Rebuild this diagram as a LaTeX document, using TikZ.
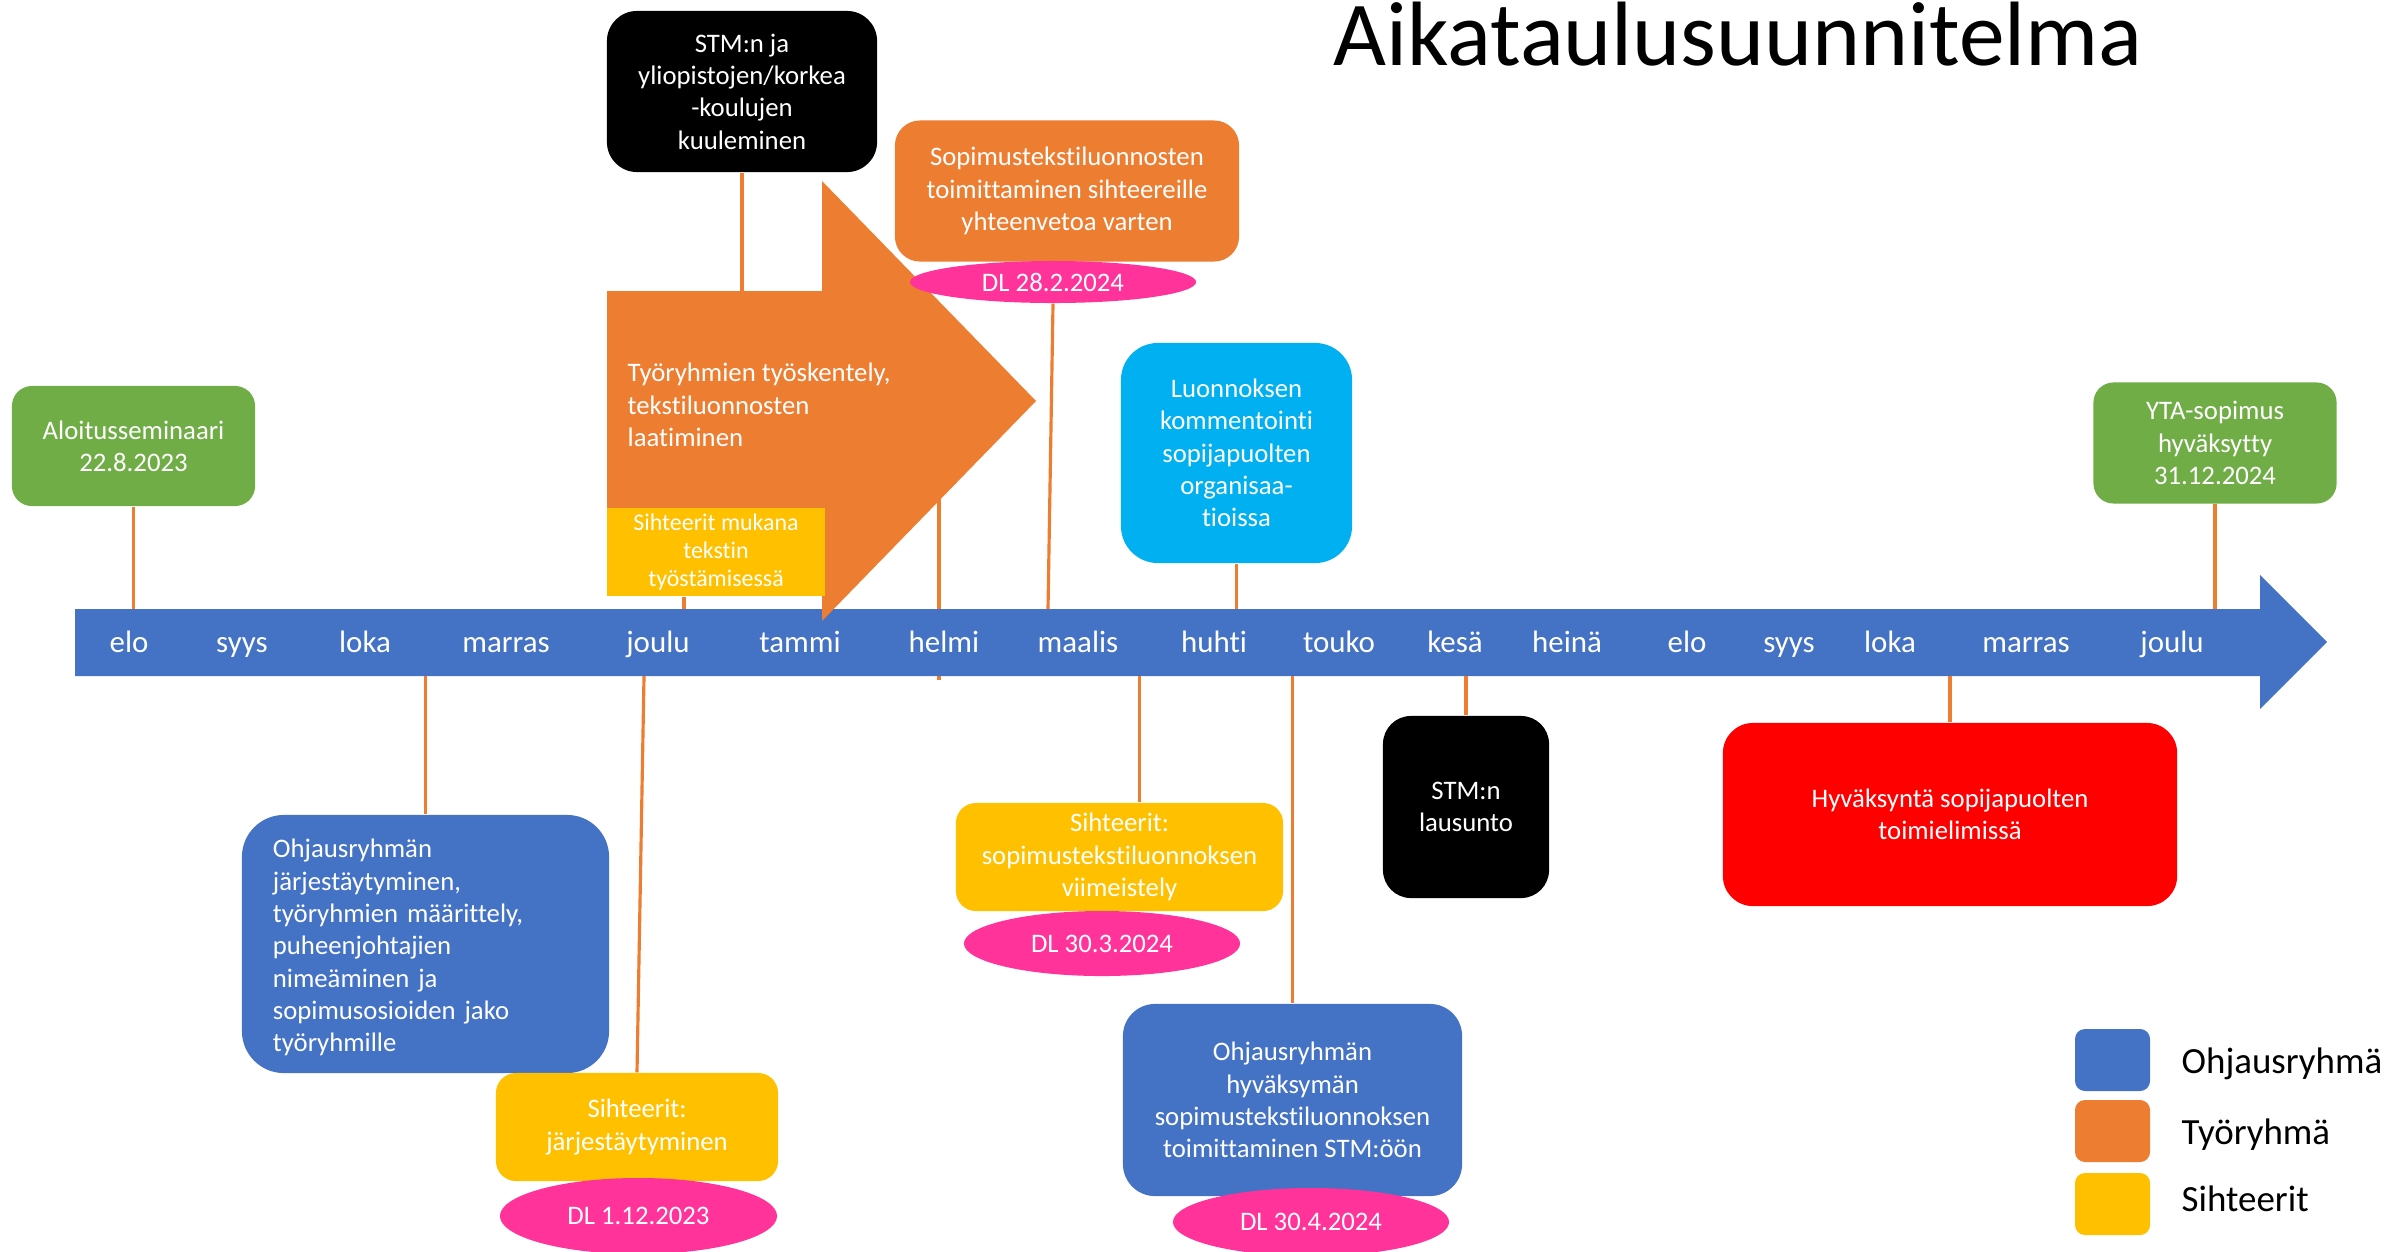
\documentclass[tikz,border=0pt]{standalone}
\usepackage{fontspec}
\setmainfont{Carlito}[Ligatures=NoCommon]
\usetikzlibrary{shapes.geometric}
\definecolor{ohjaus}{HTML}{4472C4}
\definecolor{tyo}{HTML}{ED7D31}
\definecolor{siht}{HTML}{FFC000}
\definecolor{vihrea}{HTML}{70AD47}
\definecolor{syaani}{HTML}{00B0F0}
\definecolor{pinkki}{HTML}{FF3399}
\tikzset{
	laatikko/.style={rounded corners=0.2cm, text=white, inner sep=0pt, align=center, font=\fontsize{7.6}{9.2}\selectfont, execute at begin node={\rule{0pt}{7.4pt}}},
	dl/.style={ellipse, fill=pinkki, text=white, inner sep=0pt, font=\fontsize{7.6}{9.2}\selectfont},
	viiva/.style={draw=tyo, line width=0.9pt},
	kk/.style={text=white, anchor=base, font=\fontsize{8.8}{10}\selectfont},
	selite/.style={anchor=base west, inner sep=0pt, font=\fontsize{10.5}{12}\selectfont},
}
\begin{document}
\begin{tikzpicture}[x=0.01cm, y=-0.01cm]
		\useasboundingbox (0,0) rectangle (2404,1251);
		
		% viiva helmikuun kohdalla, jaa nuolen ja palkin alle
		\coordinate (helmiyla) at (939,480);
		\coordinate (helmiala) at (939,680);
		\draw[viiva] (helmiyla) -- (helmiala);
		
		% aikajana
		\fill[ohjaus] (75,609) -- (2260,609) -- (2260,575) -- (2327,642) -- (2260,709) -- (2260,676) -- (75,676) -- cycle;
		\coordinate (bartop) at (0,609);
		\coordinate (barbot) at (0,676);
		\foreach \x/\k [count=\i] in {129/elo, 242/syys, 365/loka, 506/marras, 658/joulu, 800/tammi, 944/helmi, 1078/maalis, 1214/huhti, 1339/touko, 1455/kesä, 1567/heinä, 1687/elo, 1789/syys, 1890/loka, 2026/marras, 2172/joulu}{
			\node[kk] (kk\i) at (\x,652) {\k};
		}
		
		% tyoryhmien nuoli
		\fill[tyo] (607,291) -- (822,291) -- (822,181) -- (1036,401) -- (822,621) -- (822,511) -- (607,511) -- cycle;
		\coordinate (nuolitop) at (0,291);
		\node[anchor=west, inner sep=0pt, align=left, text=white, font=\fontsize{7.6}{9.2}\selectfont] (tyoskentely) at (627,405) {Työryhmien työskentely,\\tekstiluonnosten\\laatiminen};
		\node[fill=siht, text=white, inner sep=0pt, align=center, minimum width=2.18cm, minimum height=0.88cm, font=\fontsize{6.8}{8}\selectfont] (mukana) at (716,552) {Sihteerit mukana\\tekstin\\työstämisessä};
		
		\node[laatikko, fill=vihrea, minimum width=2.43cm, minimum height=1.2cm] (aloitus) at (133.5,446) {Aloitusseminaari\\22.8.2023};
		\node[laatikko, fill=black, rounded corners=0.3cm, minimum width=2.7cm, minimum height=1.61cm] (kuuleminen) at (742,91.5) {STM:n ja\\yliopistojen/korkea\\-koulujen\\kuuleminen};
		\node[laatikko, fill=tyo, rounded corners=0.25cm, minimum width=3.44cm, minimum height=1.41cm] (toimittaminen) at (1067,191) {Sopimustekstiluonnosten\\toimittaminen sihteereille\\yhteenvetoa varten};
		\node[dl, minimum width=2.86cm, minimum height=0.42cm] (dl1) at (1053,282) {DL 28.2.2024};
		\node[laatikko, fill=syaani, rounded corners=0.37cm, minimum width=2.31cm, minimum height=2.2cm] (kommentointi) at (1236.5,453) {Luonnoksen\\kommentointi\\sopijapuolten\\organisaa-\\tioissa};
		\node[laatikko, fill=vihrea, minimum width=2.43cm, minimum height=1.21cm] (yta) at (2215,443) {YTA-sopimus\\hyväksytty\\31.12.2024};
		
		\node[laatikko, fill=ohjaus, rounded corners=0.42cm, align=left, text width=3.05cm, inner xsep=0.31cm, minimum height=2.58cm] (jarjestaytyminen) at (425.5,944) {Ohjausryhmän\\järjestäytyminen,\\työryhmien määrittely,\\puheenjohtajien\\nimeäminen ja\\sopimusosioiden jako\\työryhmille};
		\node[laatikko, fill=siht, minimum width=2.82cm, minimum height=1.08cm] (sihjarj) at (637,1127) {Sihteerit:\\järjestäytyminen};
		\node[dl, minimum width=2.77cm, minimum height=0.76cm] (dl2) at (638.5,1216) {DL 1.12.2023};
		\node[laatikko, fill=siht, minimum width=3.27cm, minimum height=1.08cm] (viimeistely) at (1119.5,857) {Sihteerit:\\sopimustekstiluonnoksen\\viimeistely};
		\node[dl, minimum width=2.76cm, minimum height=0.65cm] (dl3) at (1102,943.5) {DL 30.3.2024};
		\node[laatikko, fill=ohjaus, rounded corners=0.32cm, minimum width=3.39cm, minimum height=1.92cm] (stmoon) at (1292.5,1100) {Ohjausryhmän\\hyväksymän\\sopimustekstiluonnoksen\\toimittaminen STM:öön};
		\node[dl, minimum width=2.76cm, minimum height=0.68cm] (dl4) at (1311,1222) {DL 30.4.2024};
		\node[laatikko, fill=black, rounded corners=0.28cm, minimum width=1.66cm, minimum height=1.82cm] (lausunto) at (1466,807) {STM:n\\lausunto};
		\node[laatikko, fill=red, rounded corners=0.3cm, minimum width=4.54cm, minimum height=1.83cm] (hyvaksynta) at (1950,814.5) {Hyväksyntä sopijapuolten\\toimielimissä};
		
		% yhdysviivat
		\draw[viiva] (aloitus.south) -- (aloitus.south |- bartop);
		\draw[viiva] (kuuleminen.south) -- (kuuleminen.south |- nuolitop);
		\draw[viiva] ([xshift=-0.32cm]mukana.south) -- ([xshift=-0.32cm]mukana.south |- bartop);
		\draw[viiva] (dl1.south) -- ([xshift=-0.05cm]dl1.south |- bartop);
		\draw[viiva] (kommentointi.south) -- (kommentointi.south |- bartop);
		\draw[viiva] (yta.south) -- (yta.south |- bartop);
		\draw[viiva] (jarjestaytyminen.north) -- (jarjestaytyminen.north |- barbot);
		\draw[viiva] (sihjarj.north) -- ([xshift=0.07cm]sihjarj.north |- barbot);
		\draw[viiva] ([xshift=0.2cm]viimeistely.north) -- ([xshift=0.2cm]viimeistely.north |- barbot);
		\draw[viiva] (stmoon.north) -- (stmoon.north |- barbot);
		\draw[viiva] (lausunto.north) -- (lausunto.north |- barbot);
		\draw[viiva] (hyvaksynta.north) -- (hyvaksynta.north |- barbot);
		
		% otsikko
		\node[anchor=base west, inner sep=0pt, font=\fontsize{26}{30}\selectfont] (otsikko) at (1333,65) {Aikataulusuunnitelma};
		
		% selitteet
		\foreach \y/\b/\c/\t [count=\i] in {1060/1073/ohjaus/Ohjausryhmä, 1131/1144/tyo/Työryhmä, 1204/1211/siht/Sihteerit}{
			\node[fill=\c, rounded corners=0.1cm, minimum width=0.75cm, minimum height=0.62cm, inner sep=0pt] (leg\i) at (2112.5,\y) {};
			\node[selite] (legteksti\i) at (2181,\b) {\t};
		}
\end{tikzpicture}
\end{document}
